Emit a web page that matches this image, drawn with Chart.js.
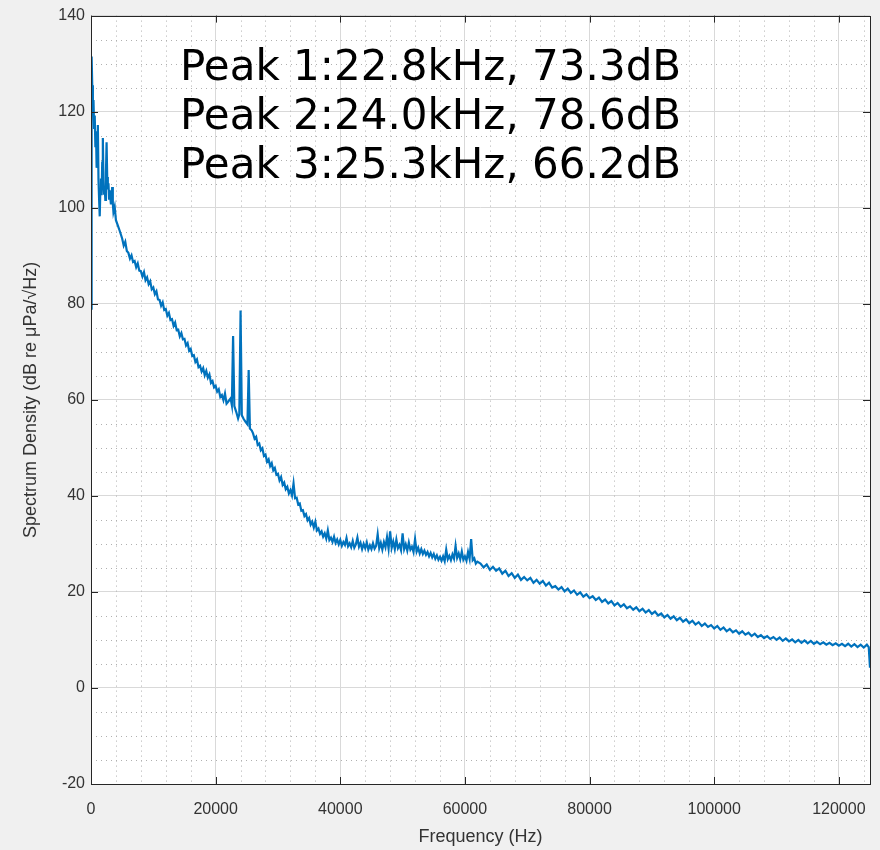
<!DOCTYPE html>
<html>
<head>
<meta charset="utf-8">
<script src="https://cdn.jsdelivr.net/npm/chart.js@4.4.1/dist/chart.umd.min.js"></script>
<style>
body { margin: 0; background: #f0f0f0; }
#wrap { width: 880px; height: 850px; }
</style>
</head>
<body>
<div id="wrap"><canvas id="espectro" width="880" height="850"></canvas></div>
<script>
// spectrum, in pieces: frequency (Hz) / level (dB re uPa/sqrt(Hz))
var freqLow = [
  0, 100, 200, 300, 400, 500, 600, 700, 800, 900,
  1000, 1100, 1200, 1300, 1400, 1500, 1600, 1700, 1800, 1900,
  2000, 2100, 2200, 2300, 2400, 2500, 2600, 2700, 2800, 2900,
  3000, 3200, 3400, 3500, 3600, 3800, 4000, 4300, 4600, 5000
];
var dbLow = [
  79.0, 131.5, 125.5, 119.8, 122.4, 116.6, 119.2, 112.8, 115.9, 108.3,
  110.7, 117.2, 105.9, 101.8, 98.2, 103.7, 106.1, 102.6, 109.4, 114.5,
  105.8, 102.9, 104.3, 101.6, 107.2, 113.6, 106.4, 103.8, 105.1, 101.9,
  103.6, 100.7, 104.3, 100.9, 99.1, 100.2, 97.4, 96.3, 95.2, 93.6
];
var freqSlope = [
  5250, 5500, 5750, 6000, 6250, 6500, 6750, 7000, 7250, 7500,
  7750, 8000, 8250, 8500, 8750, 9000, 9250, 9500, 9750, 10000,
  10250, 10500, 10750, 11000, 11250, 11500, 11750, 12000, 12250, 12500,
  12750, 13000, 13250, 13500, 13750, 14000, 14250, 14500, 14750, 15000,
  15250, 15500, 15750, 16000, 16250, 16500, 16750, 17000, 17250, 17500,
  17750, 18000, 18250, 18500, 18750, 19000, 19250, 19500, 19750, 20000,
  20250, 20500, 20750, 21000, 21250, 21500, 21750, 22000
];
var dbSlope = [
  92.1, 92.9, 91.0, 90.6, 89.4, 90.1, 88.7, 88.9, 87.6, 88.4,
  86.9, 86.8, 85.7, 86.6, 84.9, 85.5, 84.1, 84.7, 83.0, 83.4,
  82.0, 82.6, 80.9, 80.8, 79.6, 80.3, 78.7, 78.9, 77.5, 78.1,
  76.6, 76.8, 75.4, 76.1, 74.5, 74.6, 73.2, 73.9, 72.6, 72.7,
  71.3, 71.8, 70.2, 70.6, 69.1, 69.3, 67.9, 68.4, 66.8, 67.1,
  65.9, 66.6, 65.1, 66.0, 64.6, 65.3, 63.5, 63.9, 62.6, 62.9,
  61.7, 62.2, 60.6, 61.0, 59.9, 61.3, 59.2, 59.6
];
var freqPeaks = [22400, 22600, 22800, 23000, 23300, 23600, 23800, 24000, 24200, 24500, 24800, 25100, 25300, 25500, 25800];
var dbPeaks = [60.3, 58.9, 73.3, 58.7, 57.5, 56.1, 57.0, 78.6, 56.8, 56.0, 55.4, 54.9, 66.2, 54.0, 53.6];
var freqKnee = [
  26000, 26250, 26500, 26750, 27000, 27250, 27500, 27750, 28000, 28250,
  28500, 28750, 29000, 29250, 29500, 29750, 30000, 30250, 30500, 30750,
  31000, 31250, 31500, 31750, 32000, 32250, 32500, 32750, 33000, 33250,
  33500, 33750, 34000, 34250, 34500, 34750, 35000, 35250, 35500, 35750,
  36000, 36250, 36500, 36750, 37000, 37250, 37500, 37750, 38000, 38250,
  38500, 38750, 39000, 39250, 39500, 39750
];
var dbKnee = [
  53.0, 51.9, 52.3, 50.6, 50.9, 49.5, 49.9, 48.3, 48.6, 47.1,
  47.6, 46.2, 46.8, 45.3, 45.8, 44.4, 44.6, 43.2, 43.9, 42.3,
  42.8, 41.4, 41.9, 40.5, 41.2, 40.1, 42.6, 39.5, 39.6, 38.2,
  38.4, 36.9, 37.0, 35.8, 36.2, 34.9, 35.4, 34.0, 34.6, 33.4,
  34.6, 32.8, 33.2, 32.1, 32.6, 31.5, 32.2, 31.1, 32.8, 30.8,
  31.3, 30.4, 31.5, 30.2, 30.9, 29.9
];
var freqPlateau = [
  40000, 40250, 40500, 40750, 41000, 41250, 41500, 41750, 42000, 42250,
  42500, 42750, 43000, 43250, 43500, 43750, 44000, 44250, 44500, 44750,
  45000, 45250, 45500, 45750, 46000, 46250, 46500, 46750, 47000, 47250,
  47500, 47750, 48000, 48250, 48500, 48750, 49000, 49250, 49500, 49750,
  50000, 50250, 50500, 50750, 51000, 51250, 51500, 51750, 52000, 52250,
  52500, 52750, 53000, 53250, 53500, 53750, 54000, 54250, 54500, 54750,
  55000, 55250, 55500, 55750, 56000, 56250, 56500, 56750, 57000, 57250,
  57500, 57750, 58000, 58250, 58500, 58750, 59000, 59250, 59500, 59750,
  60000, 60250, 60500, 60750, 61000, 61250, 61500, 61750, 62000
];
var dbPlateau = [
  30.8, 29.6, 30.4, 29.8, 31.2, 29.5, 30.1, 29.3, 30.6, 29.2,
  29.9, 31.3, 29.4, 30.2, 28.9, 30.0, 29.1, 30.3, 28.8, 29.7,
  28.9, 30.1, 29.0, 29.6, 32.0, 29.1, 30.2, 28.8, 30.4, 29.3,
  31.4, 29.0, 32.6, 29.2, 30.5, 28.9, 30.9, 29.1, 29.8, 28.7,
  32.2, 28.9, 29.9, 28.6, 30.3, 28.8, 29.4, 28.3, 31.0, 28.4,
  29.2, 28.0, 28.9, 27.9, 28.6, 27.7, 28.3, 27.4, 28.1, 27.2,
  27.9, 26.9, 27.6, 26.7, 27.3, 26.5, 27.4, 26.4, 28.8, 26.8,
  27.5, 26.6, 27.8, 26.9, 29.6, 27.1, 28.0, 26.8, 28.4, 26.7,
  27.4, 26.5, 28.3, 26.9, 31.0, 26.6, 27.0, 25.9, 26.3
];
var freqTail = [
  62500, 63000, 63500, 64000, 64500, 65000, 65500, 66000, 66500, 67000,
  67500, 68000, 68500, 69000, 69500, 70000, 70500, 71000, 71500, 72000,
  72500, 73000, 73500, 74000, 74500, 75000, 75500, 76000, 76500, 77000,
  77500, 78000, 78500, 79000, 79500, 80000, 80500, 81000, 81500, 82000,
  82500, 83000, 83500, 84000, 84500, 85000, 85500, 86000, 86500, 87000,
  87500, 88000, 88500, 89000, 89500, 90000, 90500, 91000, 91500, 92000,
  92500, 93000, 93500, 94000, 94500, 95000, 95500, 96000, 96500, 97000,
  97500, 98000, 98500, 99000, 99500, 100000, 100500, 101000, 101500, 102000,
  102500, 103000, 103500, 104000, 104500, 105000, 105500, 106000, 106500, 107000,
  107500, 108000, 108500, 109000, 109500, 110000, 110500, 111000, 111500, 112000,
  112500, 113000, 113500, 114000, 114500, 115000, 115500, 116000, 116500, 117000,
  117500, 118000, 118500, 119000, 119500, 120000, 120500, 121000, 121500, 122000,
  122500, 123000, 123500, 124000, 124500, 124800, 125000
];
var dbTail = [
  25.9, 25.1, 25.7, 24.6, 25.2, 24.4, 24.9, 23.8, 24.4, 23.3,
  23.9, 22.9, 23.6, 22.5, 23.1, 22.4, 22.9, 21.9, 22.5, 21.7,
  22.3, 21.3, 21.9, 20.9, 21.2, 20.5, 21.0, 20.1, 20.7, 19.8,
  20.3, 19.4, 19.9, 19.0, 19.5, 18.7, 19.1, 18.3, 18.8, 17.9,
  18.4, 17.6, 18.1, 17.2, 17.7, 16.9, 17.4, 16.6, 17.0, 16.3,
  16.8, 16.0, 16.5, 15.7, 16.2, 15.4, 15.9, 15.1, 15.5, 14.7,
  15.2, 14.4, 14.9, 14.1, 14.6, 13.8, 14.3, 13.5, 14.0, 13.2,
  13.7, 12.9, 13.4, 12.7, 13.1, 12.4, 12.9, 12.1, 12.6, 11.8,
  12.3, 11.6, 12.0, 11.3, 11.8, 11.1, 11.5, 10.8, 11.3, 10.6,
  11.0, 10.4, 10.8, 10.2, 10.6, 10.0, 10.5, 9.8, 10.3, 9.7,
  10.1, 9.5, 10.0, 9.4, 9.9, 9.3, 9.8, 9.2, 9.6, 9.1,
  9.5, 9.0, 9.4, 8.9, 9.3, 8.8, 9.2, 8.7, 9.2, 8.6,
  9.1, 8.5, 9.0, 8.4, 9.0, 8.5, 4.2
];
var xTicks = [0, 20000, 40000, 60000, 80000, 100000, 120000];
var yTicks = [-20, 0, 20, 40, 60, 80, 100, 120, 140];
var peakNotes = ['Peak 1:22.8kHz, 73.3dB', 'Peak 2:24.0kHz, 78.6dB', 'Peak 3:25.3kHz, 66.2dB'];

var freqHz = [].concat(freqLow, freqSlope, freqPeaks, freqKnee, freqPlateau, freqTail);
var levelDb = [].concat(dbLow, dbSlope, dbPeaks, dbKnee, dbPlateau, dbTail);
var puntos = freqHz.map(function(f, i) { return { x: f, y: levelDb[i] }; });

var marcoMatlab = {
  id: 'marcoMatlab',
  beforeDraw: function(chart) {
    var ctx = chart.ctx, a = chart.chartArea;
    ctx.save();
    ctx.fillStyle = '#f0f0f0';
    ctx.fillRect(0, 0, chart.width, chart.height);
    ctx.fillStyle = '#ffffff';
    ctx.fillRect(a.left, a.top, a.right - a.left, a.bottom - a.top);
    ctx.restore();
  },
  beforeDatasetsDraw: function(chart) {
    // minor grid, dotted
    var ctx = chart.ctx, a = chart.chartArea;
    var sx = chart.scales.x, sy = chart.scales.y;
    ctx.save();
    ctx.strokeStyle = '#b0b0b0';
    ctx.lineWidth = 1;
    ctx.setLineDash([1, 4]);
    for (var f = 4000; f < 125000; f += 4000) {
      if (f % 20000 === 0) continue;
      var px = Math.round(sx.getPixelForValue(f)) + 0.5;
      ctx.beginPath(); ctx.moveTo(px, a.top); ctx.lineTo(px, a.bottom); ctx.stroke();
    }
    for (var d = -15; d < 140; d += 5) {
      if (d % 20 === 0) continue;
      var py = Math.round(sy.getPixelForValue(d)) + 0.5;
      ctx.beginPath(); ctx.moveTo(a.left, py); ctx.lineTo(a.right, py); ctx.stroke();
    }
    ctx.restore();
  },
  afterDraw: function(chart) {
    var ctx = chart.ctx, a = chart.chartArea;
    var sx = chart.scales.x, sy = chart.scales.y;
    ctx.save();
    ctx.strokeStyle = '#262626';
    ctx.lineWidth = 1;
    ctx.strokeRect(Math.round(a.left) + 0.5, Math.round(a.top) + 0.5,
                   Math.round(a.right - a.left), Math.round(a.bottom - a.top));
    var tl = 7;
    xTicks.forEach(function(v) {
      var px = Math.round(sx.getPixelForValue(v)) + 0.5;
      ctx.beginPath();
      ctx.moveTo(px, a.bottom); ctx.lineTo(px, a.bottom - tl);
      ctx.moveTo(px, a.top); ctx.lineTo(px, a.top + tl);
      ctx.stroke();
    });
    yTicks.forEach(function(v) {
      var py = Math.round(sy.getPixelForValue(v)) + 0.5;
      ctx.beginPath();
      ctx.moveTo(a.left, py); ctx.lineTo(a.left + tl, py);
      ctx.moveTo(a.right, py); ctx.lineTo(a.right - tl, py);
      ctx.stroke();
    });
    // peak annotation
    ctx.fillStyle = '#000000';
    ctx.font = '42px "DejaVu Sans"';
    ctx.textBaseline = 'alphabetic';
    ctx.textAlign = 'left';
    peakNotes.forEach(function(t, i) {
      ctx.fillText(t, 180, 80 + i * 49);
    });
    ctx.restore();
  }
};

var fuenteEjes = { family: '"Liberation Sans", Arial, sans-serif', size: 16 };

new Chart(document.getElementById('espectro'), {
  type: 'scatter',
  data: {
    datasets: [{
      data: puntos,
      showLine: true,
      borderColor: '#0072BD',
      backgroundColor: '#0072BD',
      borderWidth: 2.2,
      pointRadius: 0,
      tension: 0
    }]
  },
  options: {
    responsive: false,
    animation: false,
    layout: { padding: { top: 10, right: 10, left: 0, bottom: 0 } },
    plugins: { legend: { display: false }, tooltip: { enabled: false } },
    scales: {
      x: {
        type: 'linear',
        min: 0,
        max: 125000,
        afterBuildTicks: function(scale) {
          scale.ticks = xTicks.map(function(v) { return { value: v }; });
        },
        afterFit: function(scale) {
          scale.height = 66;
          scale.paddingLeft = 0;
          scale.paddingRight = 0;
        },
        grid: { color: '#d9d9d9', lineWidth: 1, drawTicks: false },
        border: { display: false },
        ticks: {
          color: '#333333',
          font: fuenteEjes,
          padding: 16,
          maxRotation: 0,
          autoSkip: false,
          callback: function(v) { return String(v); }
        },
        title: {
          display: true,
          text: 'Frequency (Hz)',
          color: '#333333',
          font: { family: '"Liberation Sans", Arial, sans-serif', size: 18 },
          padding: { top: 0, bottom: 2 }
        }
      },
      y: {
        min: -20,
        max: 140,
        afterBuildTicks: function(scale) {
          scale.ticks = yTicks.map(function(v) { return { value: v }; });
        },
        afterFit: function(scale) { scale.width = 91; },
        grid: { color: '#d9d9d9', lineWidth: 1, drawTicks: false },
        border: { display: false },
        ticks: {
          color: '#333333',
          font: fuenteEjes,
          padding: 6,
          callback: function(v) { return String(v); }
        },
        title: {
          display: true,
          text: 'Spectrum Density (dB re μPa/√Hz)',
          color: '#333333',
          font: { family: '"Liberation Sans", Arial, sans-serif', size: 18 },
          padding: { top: 20, bottom: 0 }
        }
      }
    }
  },
  plugins: [marcoMatlab]
});
</script>
</body>
</html>
